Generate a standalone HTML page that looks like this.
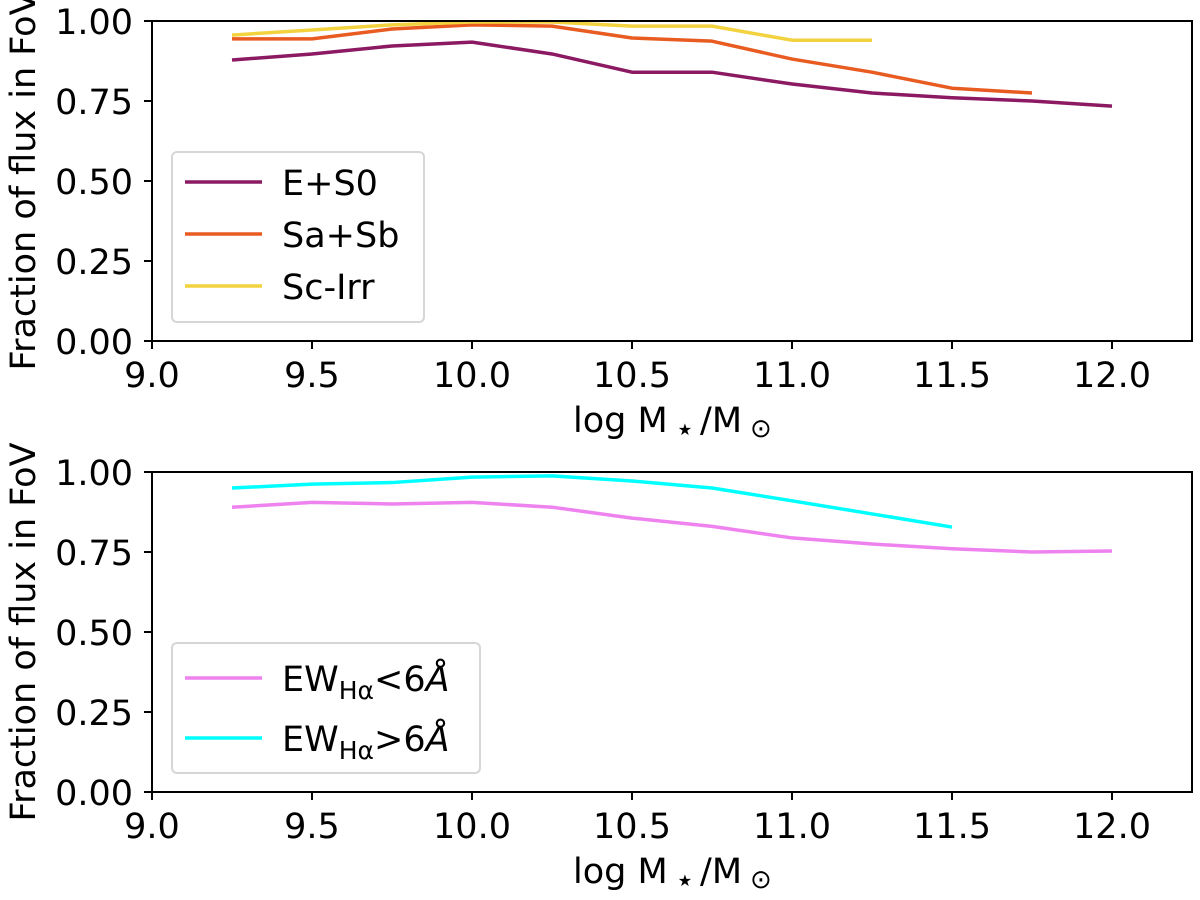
<!DOCTYPE html>
<html><head><meta charset="utf-8"><style>
html,body{margin:0;padding:0;background:#fff;overflow:hidden}
svg{display:block;font-family:"DejaVu Sans","Liberation Sans",sans-serif}
</style></head><body>
<svg id="fig" width="1200" height="900" viewBox="0 0 1200 900"></svg>
<script>
const xVals=[9.25,9.5,9.75,10.0,10.25,10.5,10.75,11.0,11.25,11.5,11.75,12.0];
const eS0=[0.878,0.897,0.922,0.934,0.897,0.84,0.84,0.803,0.775,0.76,0.75,0.734];
const saSb=[0.944,0.944,0.975,0.988,0.984,0.947,0.937,0.881,0.84,0.79,0.775];
const scIrr=[0.956,0.972,0.988,0.997,0.997,0.984,0.984,0.94,0.94];
const ewLow=[0.89,0.905,0.9,0.905,0.89,0.856,0.83,0.794,0.775,0.76,0.75,0.753];
const ewHigh=[0.95,0.962,0.967,0.984,0.988,0.972,0.95,0.91,0.869,0.828];
const xTicks=[9.0,9.5,10.0,10.5,11.0,11.5,12.0];
const yTicks=[0,0.25,0.5,0.75,1.0];
const NS="http://www.w3.org/2000/svg";
const svg=document.getElementById('fig');
function mk(t,a,p){const e=document.createElementNS(NS,t);for(const k in a)e.setAttribute(k,a[k]);(p||svg).appendChild(e);return e;}
const X0=152,X1=1192,xmin=9,xmax=12.25;
const xs=v=>X0+(v-xmin)/(xmax-xmin)*(X1-X0);
function panel(top,name,series,legend){
  const bot=top+320;
  const g=mk('g',{});
  
  
  const ys=v=>bot-v*320;
  series.forEach(s=>{
    const pts=s.vals.map((v,i)=>xs(xVals[i])+','+ys(v)).join(' ');
    const l=mk('polyline',{points:pts,fill:'none',stroke:s.color,'stroke-width':3.5,'stroke-linejoin':'round'},g);
    
    
  });
  const fr=mk('rect',{x:X0,y:top,width:X1-X0,height:320,fill:'none',stroke:'#000','stroke-width':2},g);
  
  
  xTicks.forEach(t=>{
    mk('line',{x1:xs(t),x2:xs(t),y1:bot,y2:bot+8,stroke:'#000','stroke-width':2},g);
    const tx=mk('text',{x:xs(t),y:bot+46,'text-anchor':'middle','font-size':35},g);
    tx.textContent=t.toFixed(1);
    
    
  });
  yTicks.forEach(t=>{
    mk('line',{x1:X0-8,x2:X0,y1:ys(t),y2:ys(t),stroke:'#000','stroke-width':2},g);
    const tx=mk('text',{x:X0-19,y:ys(t)+13,'text-anchor':'end','font-size':35},g);
    tx.textContent=t.toFixed(2);
    
    
  });
  const xl=mk('text',{x:573,y:bot+91,'font-size':35},g);
  xl.innerHTML='log M<tspan font-size="16" dx="10" dy="3">\u2605</tspan><tspan dx="8" dy="-3">/M</tspan><tspan font-size="26" dx="8" dy="5">\u2299</tspan>';
  
  
  const yl=mk('text',{x:0,y:0,'text-anchor':'middle','font-size':35,transform:`translate(35,${top+160}) rotate(-90)`},g);
  yl.textContent='Fraction of flux in FoV';
  
  
  const lg=mk('g',{},g);
  
  
  mk('rect',{x:172,y:legend.y,width:legend.w,height:legend.h,rx:5,fill:'#fff',stroke:'#d6d6d6','stroke-width':2},lg);
  legend.items.forEach((it,i)=>{
    const yy=legend.y0+i*legend.dy;
    const e=mk('g',{},lg);
    
    
    mk('line',{x1:185,x2:262,y1:yy,y2:yy,stroke:it.color,'stroke-width':3.5},e);
    const t=mk('text',{x:282,y:yy+13,'font-size':35},e);
    t.innerHTML=it.label;
  });
}
panel(21,'top-panel',[
  {id:'e-s0',vals:eS0,color:'#8c1a63'},
  {id:'sa-sb',vals:saSb,color:'#e85c22'},
  {id:'sc-irr',vals:scIrr,color:'#f3d240'}],
  {y:152,w:252,h:170,y0:182,dy:52,items:[
   {label:'E+S0',color:'#8c1a63'},{label:'Sa+Sb',color:'#e85c22'},{label:'Sc-Irr',color:'#f3d240'}]});
panel(472,'bottom-panel',[
  {id:'ew-low',vals:ewLow,color:'#ee82ee'},
  {id:'ew-high',vals:ewHigh,color:'#00ffff'}],
  {y:643,w:308,h:130,y0:678,dy:60,items:[
   {label:'EW<tspan font-size="25" dy="8">H\u03b1</tspan><tspan dy="-8">&lt;6</tspan><tspan font-style="italic">\u00c5</tspan>',color:'#ee82ee'},
   {label:'EW<tspan font-size="25" dy="8">H\u03b1</tspan><tspan dy="-8">&gt;6</tspan><tspan font-style="italic">\u00c5</tspan>',color:'#00ffff'}]});
</script>
</body></html>
